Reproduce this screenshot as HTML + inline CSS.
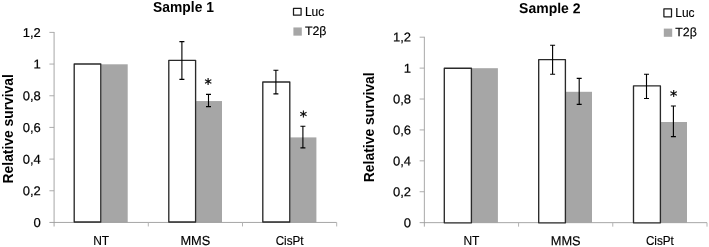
<!DOCTYPE html>
<html><head><meta charset="utf-8"><title>Relative survival</title>
<style>
html,body{margin:0;padding:0;background:#fff;}
body{width:709px;height:247px;overflow:hidden;}
svg{display:block;}
text{font-family:"Liberation Sans",sans-serif;fill:#000;}
text.ast{font-family:"DejaVu Sans","Liberation Sans",sans-serif;}
</style></head><body>
<svg width="709" height="247" viewBox="0 0 709 247">
<rect width="709" height="247" fill="#fff"/>
<g>
<rect x="101.30" y="64.30" width="26.40" height="158.15" fill="#a6a6a6"/>
<rect x="196.10" y="101.05" width="25.90" height="121.40" fill="#a6a6a6"/>
<rect x="290.30" y="137.40" width="26.10" height="85.05" fill="#a6a6a6"/>
<path d="M54.10 32.00V226.45" stroke="#b8b8b8" stroke-width="1.25" fill="none"/>
<path d="M49.40 222.45H336.70" stroke="#9c9c9c" stroke-width="0.9" fill="none"/>
<rect x="74.20" y="64.00" width="26.60" height="158.00" fill="#fff" stroke="#2a2a2a" stroke-width="1.35" stroke-linejoin="round"/>
<rect x="168.80" y="60.35" width="26.80" height="161.65" fill="#fff" stroke="#2a2a2a" stroke-width="1.35" stroke-linejoin="round"/>
<rect x="262.80" y="82.00" width="27.00" height="140.00" fill="#fff" stroke="#2a2a2a" stroke-width="1.35" stroke-linejoin="round"/>
<path d="M49.40 190.77H54.10" stroke="#a4a4a4" stroke-width="0.9"/>
<path d="M49.40 159.10H54.10" stroke="#a4a4a4" stroke-width="0.9"/>
<path d="M49.40 127.42H54.10" stroke="#a4a4a4" stroke-width="0.9"/>
<path d="M49.40 95.75H54.10" stroke="#a4a4a4" stroke-width="0.9"/>
<path d="M49.40 64.07H54.10" stroke="#a4a4a4" stroke-width="0.9"/>
<path d="M49.40 32.40H54.10" stroke="#a4a4a4" stroke-width="0.9"/>
<path d="M148.30 222.45V226.45" stroke="#b4b4b4" stroke-width="1"/>
<path d="M242.50 222.45V226.45" stroke="#b4b4b4" stroke-width="1"/>
<path d="M336.70 222.45V226.45" stroke="#b4b4b4" stroke-width="1"/>
<path d="M181.90 41.60V79.40M179.40 41.60h5.0M179.40 79.40h5.0" stroke="#000" stroke-width="1.12" fill="none"/>
<path d="M208.50 94.40V106.60M206.00 94.40h5.0M206.00 106.60h5.0" stroke="#000" stroke-width="1.12" fill="none"/>
<path d="M275.90 70.20V93.90M273.40 70.20h5.0M273.40 93.90h5.0" stroke="#000" stroke-width="1.12" fill="none"/>
<path d="M302.90 126.30V147.90M300.40 126.30h5.0M300.40 147.90h5.0" stroke="#000" stroke-width="1.12" fill="none"/>
<text transform="matrix(1 0.0005 0 1 33.50 227.00)" font-size="12.8" stroke="#000" stroke-width="0.2" textLength="7.3" lengthAdjust="spacingAndGlyphs">0</text>
<text transform="matrix(1 0.0005 0 1 22.70 195.32)" font-size="12.8" stroke="#000" stroke-width="0.2" textLength="18.1" lengthAdjust="spacingAndGlyphs">0,2</text>
<text transform="matrix(1 0.0005 0 1 22.70 163.65)" font-size="12.8" stroke="#000" stroke-width="0.2" textLength="18.1" lengthAdjust="spacingAndGlyphs">0,4</text>
<text transform="matrix(1 0.0005 0 1 22.70 131.97)" font-size="12.8" stroke="#000" stroke-width="0.2" textLength="18.1" lengthAdjust="spacingAndGlyphs">0,6</text>
<text transform="matrix(1 0.0005 0 1 22.70 100.30)" font-size="12.8" stroke="#000" stroke-width="0.2" textLength="18.1" lengthAdjust="spacingAndGlyphs">0,8</text>
<text transform="matrix(1 0.0005 0 1 33.50 68.62)" font-size="12.8" stroke="#000" stroke-width="0.2" textLength="7.3" lengthAdjust="spacingAndGlyphs">1</text>
<text transform="matrix(1 0.0005 0 1 22.70 36.95)" font-size="12.8" stroke="#000" stroke-width="0.2" textLength="18.1" lengthAdjust="spacingAndGlyphs">1,2</text>
<text transform="matrix(1 0.0005 0 1 93.20 245.0)" font-size="13" stroke="#000" stroke-width="0.15" textLength="16.0" lengthAdjust="spacingAndGlyphs">NT</text>
<text transform="matrix(1 0.0005 0 1 180.40 245.0)" font-size="13" stroke="#000" stroke-width="0.15" textLength="30.0" lengthAdjust="spacingAndGlyphs">MMS</text>
<text transform="matrix(1 0.0005 0 1 275.65 245.0)" font-size="13" stroke="#000" stroke-width="0.15" textLength="27.9" lengthAdjust="spacingAndGlyphs">CisPt</text>
<text transform="matrix(1 0.0005 0 1 153.1 11.95)" font-size="14.2" font-weight="bold" textLength="60.8" lengthAdjust="spacingAndGlyphs">Sample 1</text>
<text transform="matrix(0.0005 -1 1 0 12.8 183.4)" font-size="14.5" font-weight="bold" textLength="109.2" lengthAdjust="spacingAndGlyphs">Relative survival</text>
<rect x="293.50" y="8.25" width="7.6" height="6.95" fill="#fff" stroke="#1a1a1a" stroke-width="1.25" stroke-linejoin="round"/>
<text transform="matrix(1 0.0005 0 1 304.90 16.00)" font-size="12.4" stroke="#000" stroke-width="0.15" textLength="19.3" lengthAdjust="spacingAndGlyphs">Luc</text>
<rect x="293.40" y="27.45" width="8.4" height="8.2" fill="#a6a6a6"/>
<text transform="matrix(1 0.0005 0 1 304.90 35.00)" font-size="12.4" stroke="#000" stroke-width="0.15" textLength="21.6" lengthAdjust="spacingAndGlyphs">T2β</text>
<text transform="matrix(1 0.0005 0 1 208.10 89.00)" font-size="14.6" text-anchor="middle" class="ast" stroke="#000" stroke-width="0.3">*</text>
<text transform="matrix(1 0.0005 0 1 303.40 121.60)" font-size="14.6" text-anchor="middle" class="ast" stroke="#000" stroke-width="0.3">*</text>
</g>
<g>
<rect x="471.90" y="68.20" width="26.00" height="154.45" fill="#a6a6a6"/>
<rect x="565.90" y="91.80" width="26.10" height="130.85" fill="#a6a6a6"/>
<rect x="660.90" y="122.00" width="26.10" height="100.65" fill="#a6a6a6"/>
<path d="M424.35 36.80V226.65" stroke="#a8a8a8" stroke-width="1.0" fill="none"/>
<path d="M419.65 222.65H707.00" stroke="#9c9c9c" stroke-width="0.9" fill="none"/>
<rect x="444.30" y="68.20" width="27.10" height="154.65" fill="#fff" stroke="#2a2a2a" stroke-width="1.35" stroke-linejoin="round"/>
<rect x="538.70" y="59.60" width="26.70" height="163.25" fill="#fff" stroke="#2a2a2a" stroke-width="1.35" stroke-linejoin="round"/>
<rect x="633.50" y="85.80" width="26.90" height="137.05" fill="#fff" stroke="#2a2a2a" stroke-width="1.35" stroke-linejoin="round"/>
<path d="M419.65 191.74H424.35" stroke="#a4a4a4" stroke-width="0.9"/>
<path d="M419.65 160.83H424.35" stroke="#a4a4a4" stroke-width="0.9"/>
<path d="M419.65 129.93H424.35" stroke="#a4a4a4" stroke-width="0.9"/>
<path d="M419.65 99.02H424.35" stroke="#a4a4a4" stroke-width="0.9"/>
<path d="M419.65 68.11H424.35" stroke="#a4a4a4" stroke-width="0.9"/>
<path d="M419.65 37.20H424.35" stroke="#a4a4a4" stroke-width="0.9"/>
<path d="M518.57 222.65V226.65" stroke="#b4b4b4" stroke-width="1"/>
<path d="M612.78 222.65V226.65" stroke="#b4b4b4" stroke-width="1"/>
<path d="M707.00 222.65V226.65" stroke="#b4b4b4" stroke-width="1"/>
<path d="M552.60 45.20V74.20M550.10 45.20h5.0M550.10 74.20h5.0" stroke="#000" stroke-width="1.12" fill="none"/>
<path d="M579.20 78.40V104.40M576.70 78.40h5.0M576.70 104.40h5.0" stroke="#000" stroke-width="1.12" fill="none"/>
<path d="M646.50 74.20V98.50M644.00 74.20h5.0M644.00 98.50h5.0" stroke="#000" stroke-width="1.12" fill="none"/>
<path d="M673.40 106.00V136.60M670.90 106.00h5.0M670.90 136.60h5.0" stroke="#000" stroke-width="1.12" fill="none"/>
<text transform="matrix(1 0.0005 0 1 403.75 227.20)" font-size="12.8" stroke="#000" stroke-width="0.2" textLength="7.3" lengthAdjust="spacingAndGlyphs">0</text>
<text transform="matrix(1 0.0005 0 1 392.95 196.29)" font-size="12.8" stroke="#000" stroke-width="0.2" textLength="18.1" lengthAdjust="spacingAndGlyphs">0,2</text>
<text transform="matrix(1 0.0005 0 1 392.95 165.38)" font-size="12.8" stroke="#000" stroke-width="0.2" textLength="18.1" lengthAdjust="spacingAndGlyphs">0,4</text>
<text transform="matrix(1 0.0005 0 1 392.95 134.48)" font-size="12.8" stroke="#000" stroke-width="0.2" textLength="18.1" lengthAdjust="spacingAndGlyphs">0,6</text>
<text transform="matrix(1 0.0005 0 1 392.95 103.57)" font-size="12.8" stroke="#000" stroke-width="0.2" textLength="18.1" lengthAdjust="spacingAndGlyphs">0,8</text>
<text transform="matrix(1 0.0005 0 1 403.75 72.66)" font-size="12.8" stroke="#000" stroke-width="0.2" textLength="7.3" lengthAdjust="spacingAndGlyphs">1</text>
<text transform="matrix(1 0.0005 0 1 392.95 41.60)" font-size="12.8" stroke="#000" stroke-width="0.2" textLength="18.1" lengthAdjust="spacingAndGlyphs">1,2</text>
<text transform="matrix(1 0.0005 0 1 463.46 245.35)" font-size="13" stroke="#000" stroke-width="0.15" textLength="16.0" lengthAdjust="spacingAndGlyphs">NT</text>
<text transform="matrix(1 0.0005 0 1 550.67 245.35)" font-size="13" stroke="#000" stroke-width="0.15" textLength="30.0" lengthAdjust="spacingAndGlyphs">MMS</text>
<text transform="matrix(1 0.0005 0 1 645.94 245.35)" font-size="13" stroke="#000" stroke-width="0.15" textLength="27.9" lengthAdjust="spacingAndGlyphs">CisPt</text>
<text transform="matrix(1 0.0005 0 1 519.1 13.1)" font-size="14.2" font-weight="bold" textLength="61.4" lengthAdjust="spacingAndGlyphs">Sample 2</text>
<text transform="matrix(0.0005 -1 1 0 374.4 182.3)" font-size="14.5" font-weight="bold" textLength="110.0" lengthAdjust="spacingAndGlyphs">Relative survival</text>
<rect x="663.90" y="8.80" width="7.6" height="8.0" fill="#fff" stroke="#1a1a1a" stroke-width="1.25" stroke-linejoin="round"/>
<text transform="matrix(1 0.0005 0 1 675.30 17.30)" font-size="12.4" stroke="#000" stroke-width="0.15" textLength="19.3" lengthAdjust="spacingAndGlyphs">Luc</text>
<rect x="663.80" y="28.60" width="8.4" height="8.2" fill="#a6a6a6"/>
<text transform="matrix(1 0.0005 0 1 675.30 36.20)" font-size="12.4" stroke="#000" stroke-width="0.15" textLength="21.6" lengthAdjust="spacingAndGlyphs">T2β</text>
<text transform="matrix(1 0.0005 0 1 673.70 101.00)" font-size="14.6" text-anchor="middle" class="ast" stroke="#000" stroke-width="0.3">*</text>
</g>
</svg>
</body></html>
